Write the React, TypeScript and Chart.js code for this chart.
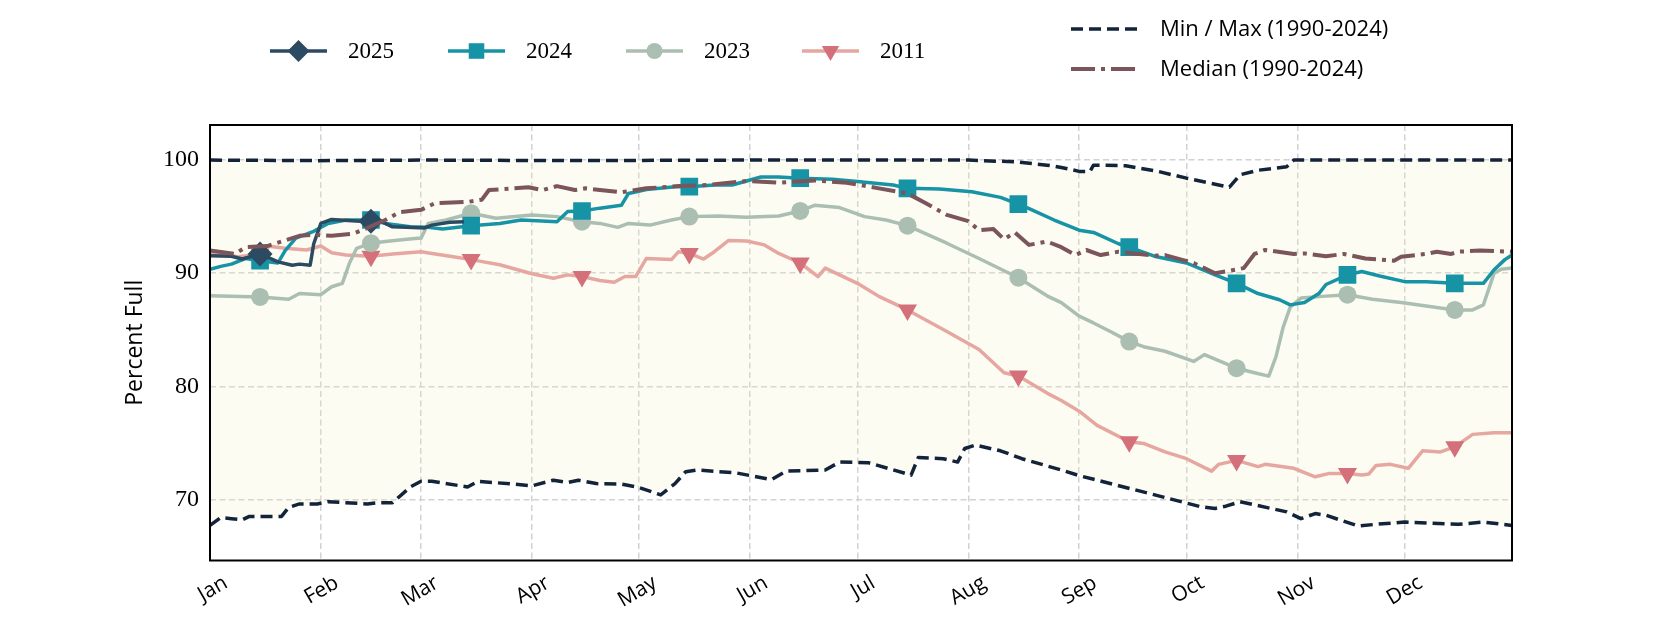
import React, { useEffect, useRef } from 'react';
import { Chart, registerables } from 'chart.js';
import { drawPoint } from 'chart.js/helpers';

Chart.register(...registerables);

// ---------- data ----------
const MONTH_LABELS = ['Jan', 'Feb', 'Mar', 'Apr', 'May', 'Jun', 'Jul', 'Aug', 'Sep', 'Oct', 'Nov', 'Dec'];
const MONTH_START_DAYS = [0, 31, 59, 90, 120, 151, 181, 212, 243, 273, 304, 334];
const MARKER_DAYS = [14, 45, 73, 104, 134, 165, 195, 226, 257, 287, 318, 348];
const Y_TICK_VALUES = [70, 80, 90, 100];

const DAYS_2025 = [0, 6, 9, 14, 19, 23, 25, 28, 29, 31, 34, 42, 45, 48, 51, 55, 60, 62, 67, 71];
const PCT_2025 = [91.55, 91.5, 91.25, 91.7, 91.0, 90.7, 90.8, 90.7, 92.6, 94.4, 94.75, 94.6, 94.6, 94.55, 94.1, 94.05, 94.0, 94.25, 94.5, 94.55];

const DAYS_2024 = [0, 3, 6, 10, 14, 19, 21, 24, 29, 33, 38, 45, 49, 56, 61, 65, 73, 81, 87, 97, 100, 104, 109, 115, 117, 122, 130, 134, 141, 146, 154, 159, 165, 174, 181, 191, 195, 204, 213, 221, 226, 229, 236, 243, 247, 254, 257, 264, 273, 281, 287, 293, 299, 302, 306, 310, 312, 318, 322, 327, 334, 340, 348, 356, 359, 362, 364];
const PCT_2024 = [90.35, 90.6, 90.8, 91.3, 91.1, 90.9, 92.0, 93.1, 93.7, 94.4, 94.7, 94.7, 94.4, 94.1, 94.05, 93.9, 94.2, 94.4, 94.7, 94.55, 95.45, 95.5, 95.75, 96.0, 97.05, 97.4, 97.65, 97.65, 97.8, 97.8, 98.5, 98.5, 98.4, 98.3, 98.1, 97.8, 97.5, 97.45, 97.2, 96.7, 96.1, 95.7, 94.7, 93.8, 93.6, 92.6, 92.3, 91.5, 90.9, 89.85, 89.1, 88.2, 87.65, 87.2, 87.4, 88.2, 89.0, 89.85, 90.15, 89.75, 89.25, 89.25, 89.1, 89.1, 90.3, 91.2, 91.6];

const DAYS_2023 = [0, 14, 22, 25, 31, 34, 37, 39, 41, 45, 49, 55, 59, 61, 66, 73, 80, 90, 97, 104, 109, 114, 117, 123, 129, 134, 142, 150, 159, 165, 169, 176, 183, 189, 195, 206, 215, 226, 234, 238, 243, 247, 252, 257, 261, 267, 275, 278, 287, 292, 296, 298, 300, 302, 305, 311, 318, 325, 333, 340, 348, 353, 356, 359, 361, 364];
const PCT_2023 = [88.0, 87.9, 87.7, 88.2, 88.1, 88.8, 89.1, 90.9, 92.2, 92.65, 92.8, 93.0, 93.1, 94.4, 94.7, 95.3, 94.85, 95.15, 95.0, 94.55, 94.4, 94.05, 94.4, 94.25, 94.7, 95.0, 95.05, 94.95, 95.05, 95.5, 96.0, 95.8, 95.0, 94.7, 94.2, 92.65, 91.3, 89.6, 88.0, 87.4, 86.2, 85.6, 84.8, 83.95, 83.5, 83.1, 82.2, 82.8, 81.6, 81.2, 80.9, 82.6, 85.2, 87.0, 87.8, 87.95, 88.1, 87.7, 87.4, 87.1, 86.75, 86.75, 87.2, 90.0, 90.35, 90.45];

const DAYS_2011 = [0, 8, 14, 16, 21, 27, 31, 34, 38, 45, 51, 59, 63, 68, 73, 81, 90, 96, 100, 104, 109, 113, 116, 119, 122, 129, 131, 134, 138, 141, 145, 150, 155, 159, 165, 170, 172, 181, 187, 195, 206, 215, 222, 226, 234, 238, 243, 248, 257, 261, 267, 273, 280, 282, 287, 293, 295, 303, 309, 313, 318, 322, 324, 326, 330, 335, 339, 344, 348, 353, 359, 364];
const PCT_2011 = [91.75, 91.45, 91.7, 92.4, 92.2, 92.05, 92.4, 91.8, 91.6, 91.5, 91.7, 91.9, 91.7, 91.45, 91.2, 90.75, 89.95, 89.55, 89.85, 89.7, 89.35, 89.2, 89.7, 89.7, 91.3, 91.2, 91.9, 91.75, 91.25, 91.9, 92.9, 92.85, 92.5, 91.75, 90.9, 89.7, 90.45, 89.1, 87.95, 86.75, 84.85, 83.25, 81.2, 80.9, 79.4, 78.75, 77.8, 76.55, 75.1, 74.95, 74.2, 73.6, 72.5, 73.1, 73.45, 72.9, 73.1, 72.75, 72.0, 72.3, 72.3, 72.15, 72.25, 73.0, 73.1, 72.75, 74.3, 74.2, 74.65, 75.75, 75.9, 75.9];

const DAYS_MEDIAN = [0, 7, 10, 16, 21, 25, 29, 34, 40, 44, 49, 53, 59, 61, 63, 72, 76, 78, 85, 89, 93, 97, 102, 105, 109, 115, 122, 131, 139, 150, 159, 169, 178, 187, 195, 200, 206, 212, 215, 219, 222, 225, 229, 234, 238, 242, 245, 249, 254, 264, 267, 275, 281, 284, 289, 292, 295, 303, 306, 312, 317, 323, 331, 333, 340, 343, 347, 349, 355, 364];
const PCT_MEDIAN = [92.0, 91.7, 92.3, 92.4, 92.9, 93.3, 93.4, 93.3, 93.5, 94.0, 94.7, 95.4, 95.6, 95.9, 96.2, 96.3, 96.5, 97.35, 97.5, 97.6, 97.35, 97.7, 97.35, 97.5, 97.35, 97.15, 97.5, 97.7, 97.8, 98.15, 98.0, 98.2, 98.0, 97.5, 97.05, 96.2, 95.15, 94.6, 93.8, 93.9, 93.0, 93.6, 92.5, 92.8, 92.3, 91.6, 92.05, 91.6, 91.9, 91.55, 91.6, 90.9, 90.0, 90.15, 90.45, 91.7, 92.05, 91.7, 91.75, 91.5, 91.7, 91.3, 91.1, 91.45, 91.7, 91.9, 91.7, 91.9, 92.0, 91.9];

const DAYS_MAX = [0, 30, 60, 100, 150, 212, 220, 225, 234, 238, 243, 246, 247, 256, 265, 273, 285, 288, 293, 301, 303, 364];
const PCT_MAX = [100, 99.95, 100, 99.95, 100, 100, 99.9, 99.85, 99.55, 99.35, 99.0, 99.0, 99.55, 99.5, 99.0, 98.4, 97.6, 98.7, 99.1, 99.4, 100, 100];

const DAYS_MIN = [0, 3, 6, 9, 11, 20, 22, 25, 30, 33, 44, 47, 51, 56, 59, 62, 72, 75, 85, 90, 96, 100, 103, 108, 115, 120, 126, 130, 133, 136, 147, 157, 161, 172, 176, 184, 196, 198, 205, 209, 211, 214, 221, 227, 238, 243, 253, 266, 277, 281, 284, 288, 301, 305, 309, 312, 321, 326, 334, 349, 356, 364];
const PCT_MIN = [67.7, 68.4, 68.3, 68.2, 68.5, 68.5, 69.3, 69.6, 69.6, 69.8, 69.6, 69.7, 69.7, 71.1, 71.6, 71.6, 71.1, 71.6, 71.35, 71.2, 71.7, 71.5, 71.7, 71.4, 71.35, 71.05, 70.4, 71.4, 72.45, 72.6, 72.35, 71.75, 72.5, 72.6, 73.3, 73.25, 72.15, 73.7, 73.6, 73.3, 74.5, 74.8, 74.3, 73.6, 72.6, 72.1, 71.3, 70.25, 69.35, 69.2, 69.4, 69.8, 68.9, 68.3, 68.75, 68.6, 67.65, 67.8, 68.0, 67.8, 68.0, 67.7];

// ---------- styles ----------
const C2025 = '#2c4a62';
const C2024 = '#1793a6';
const C2023 = '#abbeb2';
const C2011_LINE = '#e6a7a1';
const C2011_MARK = '#d3707a';
const C_MINMAX = '#13233a';
const C_MEDIAN = '#7b5559';
const C_FILL = 'rgba(238, 238, 190, 0.2)';
const C_GRID = '#d2d2d2';
const DASH_MINMAX = [12, 6];
const DASH_MEDIAN = [24, 6, 4, 6];
const W_YEAR = 3.5;
const W_MINMAX = 3.5;
const W_MEDIAN = 4;

const series = (days: number[], vals: number[]) => days.map((d, i) => ({ x: d, y: vals[i] }));
const markerRadius = (r: number) => (ctx: any) =>
  ctx.raw && MARKER_DAYS.includes(ctx.raw.x) ? r : 0;

const YEAR_LEGEND = [
  { label: '2025', color: C2025, marker: C2025, style: 'rectRot', radius: 11, rotation: 0, x: 270 },
  { label: '2024', color: C2024, marker: C2024, style: 'rect', radius: 11, rotation: 0, x: 448 },
  { label: '2023', color: C2023, marker: C2023, style: 'circle', radius: 8, rotation: 0, x: 626 },
  { label: '2011', color: C2011_LINE, marker: C2011_MARK, style: 'triangle', radius: 10, rotation: 180, x: 802 },
];

const legendPlugin = {
  id: 'customLegend',
  afterDraw(chart: any) {
    const ctx = chart.ctx as CanvasRenderingContext2D;
    ctx.save();
    YEAR_LEGEND.forEach((it) => {
      const y = 51;
      ctx.setLineDash([]);
      ctx.lineWidth = W_YEAR;
      ctx.strokeStyle = it.color;
      ctx.beginPath();
      ctx.moveTo(it.x, y);
      ctx.lineTo(it.x + 57, y);
      ctx.stroke();
      ctx.fillStyle = it.marker;
      drawPoint(ctx, { pointStyle: it.style as any, radius: it.radius, rotation: it.rotation, borderWidth: 0 } as any, it.x + 28.5, y);
      ctx.fillStyle = '#000';
      ctx.font = '23px "Liberation Serif", serif';
      ctx.textBaseline = 'middle';
      ctx.textAlign = 'left';
      ctx.fillText(it.label, it.x + 78, y + 1);
    });
    const refs = [
      { label: 'Min / Max (1990-2024)', color: C_MINMAX, dash: DASH_MINMAX, width: W_MINMAX, y: 29 },
      { label: 'Median (1990-2024)', color: C_MEDIAN, dash: DASH_MEDIAN, width: W_MEDIAN, y: 69 },
    ];
    refs.forEach((r) => {
      ctx.setLineDash(r.dash);
      ctx.lineWidth = r.width;
      ctx.strokeStyle = r.color;
      ctx.beginPath();
      ctx.moveTo(1071, r.y);
      ctx.lineTo(1137, r.y);
      ctx.stroke();
      ctx.setLineDash([]);
      ctx.fillStyle = '#000';
      ctx.font = '22px "Open Sans", sans-serif';
      ctx.textBaseline = 'middle';
      ctx.textAlign = 'left';
      ctx.fillText(r.label, 1160, r.y + 1);
    });
    ctx.restore();
  },
};

const framePlugin = {
  id: 'frame',
  afterDatasetsDraw(chart: any) {
    const { ctx, chartArea } = chart;
    ctx.save();
    ctx.setLineDash([]);
    ctx.lineWidth = 2;
    ctx.strokeStyle = '#000';
    ctx.strokeRect(chartArea.left, chartArea.top, chartArea.right - chartArea.left, chartArea.bottom - chartArea.top);
    ctx.restore();
  },
};

export default function App() {
  const canvasRef = useRef<HTMLCanvasElement>(null);

  useEffect(() => {
    document.body.style.margin = '0';
    const canvas = canvasRef.current;
    if (!canvas) return;
    const chart = new Chart(canvas, {
      type: 'line',
      data: {
        datasets: [
          {
            label: 'Median (1990-2024)',
            data: series(DAYS_MEDIAN, PCT_MEDIAN),
            borderColor: C_MEDIAN,
            borderWidth: W_MEDIAN,
            borderDash: DASH_MEDIAN,
            pointRadius: 0,
            fill: false,
          },
          {
            label: 'Max (1990-2024)',
            data: series(DAYS_MAX, PCT_MAX),
            borderColor: C_MINMAX,
            borderWidth: W_MINMAX,
            borderDash: DASH_MINMAX,
            pointRadius: 0,
            fill: '+1',
            backgroundColor: C_FILL,
          },
          {
            label: 'Min (1990-2024)',
            data: series(DAYS_MIN, PCT_MIN),
            borderColor: C_MINMAX,
            borderWidth: W_MINMAX,
            borderDash: DASH_MINMAX,
            pointRadius: 0,
            fill: false,
          },
          {
            label: '2025',
            data: series(DAYS_2025, PCT_2025),
            borderColor: C2025,
            borderWidth: W_YEAR,
            pointStyle: 'rectRot',
            pointRadius: markerRadius(12.5),
            pointBackgroundColor: C2025,
            pointBorderColor: C2025,
            pointBorderWidth: 0,
            fill: false,
          },
          {
            label: '2024',
            data: series(DAYS_2024, PCT_2024),
            borderColor: C2024,
            borderWidth: W_YEAR,
            pointStyle: 'rect',
            pointRadius: markerRadius(12.5),
            pointBackgroundColor: C2024,
            pointBorderColor: C2024,
            pointBorderWidth: 0,
            fill: false,
          },
          {
            label: '2023',
            data: series(DAYS_2023, PCT_2023),
            borderColor: C2023,
            borderWidth: W_YEAR,
            pointStyle: 'circle',
            pointRadius: markerRadius(9),
            pointBackgroundColor: C2023,
            pointBorderColor: C2023,
            pointBorderWidth: 0,
            fill: false,
          },
          {
            label: '2011',
            data: series(DAYS_2011, PCT_2011),
            borderColor: C2011_LINE,
            borderWidth: W_YEAR,
            pointStyle: 'triangle',
            pointRotation: 180,
            pointRadius: markerRadius(11),
            pointBackgroundColor: C2011_MARK,
            pointBorderColor: C2011_MARK,
            pointBorderWidth: 0,
            fill: false,
          },
        ] as any,
      },
      options: {
        responsive: false,
        animation: false,
        events: [],
        elements: { line: { tension: 0, borderJoinStyle: 'round' } },
        layout: { padding: { top: 125, right: 168, bottom: 0, left: 0 } },
        plugins: {
          legend: { display: false },
          tooltip: { enabled: false },
          filler: { drawTime: 'beforeDatasetsDraw' },
        } as any,
        scales: {
          x: {
            type: 'linear',
            min: 0,
            max: 364,
            afterBuildTicks: (s: any) => {
              s.ticks = MONTH_START_DAYS.map((v) => ({ value: v }));
            },
            afterFit: (s: any) => {
              s.height = 69.5;
            },
            ticks: {
              autoSkip: false,
              minRotation: 30,
              maxRotation: 30,
              padding: 10,
              labelOffset: 16,
              color: '#000',
              font: { family: '"Open Sans", sans-serif', size: 21 },
              callback: (v: any) => MONTH_LABELS[MONTH_START_DAYS.indexOf(Number(v))] ?? '',
            },
            grid: { color: C_GRID, lineWidth: 1.5, drawTicks: false },
            border: { display: false, dash: [6, 3.5] },
          },
          y: {
            type: 'linear',
            min: 64.6,
            max: 103.1,
            afterBuildTicks: (s: any) => {
              s.ticks = Y_TICK_VALUES.map((v) => ({ value: v }));
            },
            afterFit: (s: any) => {
              s.width = 210;
            },
            ticks: {
              padding: 11,
              color: '#000',
              font: { family: '"Liberation Serif", serif', size: 24 },
            },
            grid: { color: C_GRID, lineWidth: 1.5, drawTicks: false },
            border: { display: false, dash: [6, 3.5] },
            title: {
              display: true,
              text: 'Percent Full',
              color: '#000',
              font: { family: '"Open Sans", sans-serif', size: 23 },
              padding: { top: 122, bottom: 0 },
            },
          },
        },
      } as any,
      plugins: [framePlugin, legendPlugin],
    });
    return () => chart.destroy();
  }, []);

  return (
    <div style={{ position: 'absolute', left: 0, top: 0, width: 1680, height: 630, background: '#fff' }}>
      <canvas ref={canvasRef} width={1680} height={630} style={{ display: 'block', width: 1680, height: 630 }} />
    </div>
  );
}
